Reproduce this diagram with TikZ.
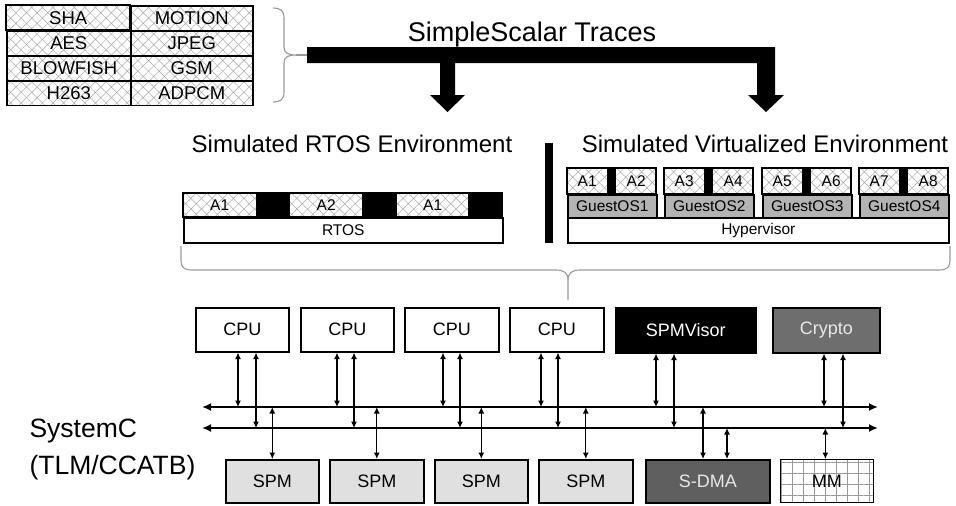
\documentclass[tikz,border=0pt]{standalone}
\usepackage{fontspec}
\setmainfont{Liberation Sans}
\usetikzlibrary{arrows.meta,patterns.meta}
\definecolor{spmfill}{HTML}{E0E0E0}
\definecolor{dmafill}{HTML}{5F5F5F}
\definecolor{cryptofill}{HTML}{6E6E6E}
\definecolor{guestfill}{HTML}{B3B3B3}
\definecolor{bracecol}{HTML}{999999}
\definecolor{hatchcol}{HTML}{ABABAB}
\definecolor{lighttext}{HTML}{E8E8E8}
\newcommand{\sizedfont}[1]{\fontsize{#1}{#1}\selectfont}
\tikzset{
  hatched/.style={preaction={fill=white}, pattern={Hatch[angle=45,distance=7.5pt,line width=0.5pt]}, pattern color=hatchcol},
  gridded/.style={preaction={fill=white}, pattern={Hatch[angle=0,distance=11pt,line width=0.7pt]}, pattern color=bracecol},
  box/.style={draw, line width=1.6pt, inner sep=0pt, anchor=north west},
  cell/.style={box, hatched, minimum width=124pt, minimum height=25pt, font=\sizedfont{18.5}},
  abox/.style={hatched, inner sep=0pt, anchor=north west, font=\sizedfont{15.5}},
  unit/.style={box, minimum height=44pt, font=\sizedfont{18}},
  mem/.style={box, minimum height=43pt, font=\sizedfont{18}},
  link/.style={line width=1.1pt, {Latex[length=6.5pt,width=6pt]}-{Latex[length=6.5pt,width=6pt]}},
  bus/.style={line width=2.6pt, {Latex[length=9pt,width=8pt]}-{Latex[length=9pt,width=8pt]}},
  brace/.style={draw=bracecol, line width=1.1pt},
  heading/.style={anchor=base, font=\sizedfont{24}}
}
\begin{document}
\begin{tikzpicture}[x=1pt, y=-1pt]
\useasboundingbox (0,0) rectangle (956,506);

% benchmark table
\node[cell] (sha) at (6,5) {SHA};
\node[cell, minimum width=122pt] (motion) at (130,5) {MOTION};
\node[cell] (aes) at (6,30) {AES};
\node[cell, minimum width=122pt] (jpeg) at (130,30) {JPEG};
\node[cell] (blowfish) at (6,55) {BLOWFISH};
\node[cell, minimum width=122pt] (gsm) at (130,55) {GSM};
\node[cell, minimum height=24.5pt] (h263) at (6,80) {H263};
\node[cell, minimum width=122pt, minimum height=24.5pt] (adpcm) at (130,80) {ADPCM};

% brace gathering the benchmarks
\draw[brace] (273,8) .. controls (280,8) and (284,10) .. (284,18) -- (284,47)
  .. controls (284,53) and (288,55) .. (296,55)
  .. controls (288,55) and (284,57) .. (284,63) -- (284,92)
  .. controls (284,100) and (280,102) .. (273,102);
\draw[brace] (296,55) -- (310,55);

% trace distribution arrow
\node[anchor=base, font=\sizedfont{27}] (traces) at (532,41.5) {SimpleScalar Traces};
\fill (307,47) -- (775,47) -- (775,95) -- (784,95) -- (766,112) -- (748,95) -- (757,95)
  -- (757,63) -- (455,63) -- (455,95) -- (465,95) -- (447.5,112) -- (430,95) -- (440,95)
  -- (440,63) -- (307,63) -- cycle;

% RTOS environment
\node[heading] (rtostitle) at (352,152) {Simulated RTOS Environment};
\fill (183,193) rectangle (502,217);
\node[abox, minimum width=73pt, minimum height=24pt] (ra) at (183,193) {A1};
\node[abox, minimum width=72pt, minimum height=24pt] (rb) at (290,193) {A2};
\node[abox, minimum width=71pt, minimum height=24pt] (rc) at (397,193) {A1};
\draw[line width=1.6pt] (183,193) rectangle (502,217);
\node[box, fill=white, minimum width=319pt, minimum height=25pt, font=\sizedfont{15.5}] (rtos) at (183,217) {RTOS};

% separator
\fill (545,143) rectangle (553,243);

% virtualized environment
\node[heading] (virttitle) at (765,152) {Simulated Virtualized Environment};
\foreach \i/\x in {1/567, 2/664, 3/762, 4/859}{
  \pgfmathtruncatemacro{\la}{2*\i-1}
  \pgfmathtruncatemacro{\lb}{2*\i}
  \fill (\x,168) rectangle ++(89,26);
  \node[abox, minimum width=40pt, minimum height=26pt] (va\i) at (\x,168) {A\la};
  \node[abox, minimum width=40pt, minimum height=26pt] (vb\i) at (\x+49,168) {A\lb};
  \draw[line width=1.6pt] (\x,168) rectangle ++(89,26);
  \node[box, fill=guestfill, minimum width=89pt, minimum height=23pt, font=\sizedfont{15.5}] (g\i) at (\x,194) {GuestOS\i};
}
\node[box, fill=white, minimum width=381pt, minimum height=25pt, font=\sizedfont{15.5}] (hyp) at (567,217) {Hypervisor};

% brace mapping both environments onto the platform
\draw[brace] (181,246) -- (181,261) .. controls (181,267) and (184,270) .. (192,270) -- (556,270)
  .. controls (564,270) and (568,273) .. (568,280) -- (568,300);
\draw[brace] (568,280) .. controls (568,273) and (572,270) .. (580,270) -- (939,270)
  .. controls (947,270) and (950,267) .. (950,261) -- (950,246);

% processing elements
\node[unit, minimum width=93pt] (cpu1) at (195,307) {CPU};
\node[unit, minimum width=93pt] (cpu2) at (300,307) {CPU};
\node[unit, minimum width=94pt] (cpu3) at (404,307) {CPU};
\node[unit, minimum width=94pt] (cpu4) at (509,307) {CPU};
\node[unit, minimum width=140pt, minimum height=45pt, fill=black, text=white] (visor) at (615,307) {SPMVisor};
\node[unit, minimum width=107pt, minimum height=45pt, fill=cryptofill, text=lighttext] (crypto) at (772,307) {Crypto};

% memories
\node[mem, minimum width=93pt, fill=spmfill] (spm1) at (225,459) {SPM};
\node[mem, minimum width=94pt, fill=spmfill] (spm2) at (329,459) {SPM};
\node[mem, minimum width=93pt, fill=spmfill] (spm3) at (434,459) {SPM};
\node[mem, minimum width=94pt, fill=spmfill] (spm4) at (538,459) {SPM};
\node[mem, minimum width=124pt, fill=dmafill, text=lighttext] (dma) at (645,459) {S-DMA};
\node[mem, minimum width=93pt, gridded] (mm) at (780,459) {MM};

% bus end points
\coordinate (b1l) at (202,407);
\coordinate (b1r) at (878,407);
\coordinate (b2l) at (202,428);
\coordinate (b2r) at (878,428);

% master ports
\foreach \n/\a/\b in {cpu1/43/61, cpu2/37/54, cpu3/39/56, cpu4/32/49, visor/41/59, crypto/52/71}{
  \path ([xshift=\a pt]\n.south west) coordinate (pa);
  \path ([xshift=\b pt]\n.south west) coordinate (pb);
  \draw[link] (pa) -- (pa |- b1l);
  \draw[link] (pb) -- (pb |- b2l);
}

% slave ports
\foreach \n in {spm1, spm2, spm3, spm4}{
  \draw[link] (\n.north) -- (\n.north |- b1l);
}
\path ([xshift=58pt]dma.north west) coordinate (da);
\path ([xshift=82pt]dma.north west) coordinate (db);
\draw[link] (da) -- (da |- b1l);
\draw[link] (db) -- (db |- b2l);
\draw[link] ([xshift=-1.5pt]mm.north) -- ([xshift=-1.5pt]mm.north |- b2l);

% buses
\draw[bus] (b1l) -- (b1r);
\draw[bus] (b2l) -- (b2r);

% platform label
\node[anchor=base west, font=\sizedfont{26.5}] (sysc) at (26,437) {SystemC};
\node[anchor=base west, font=\sizedfont{26.5}] (tlm) at (26,474) {(TLM/CCATB)};
\end{tikzpicture}
\end{document}
